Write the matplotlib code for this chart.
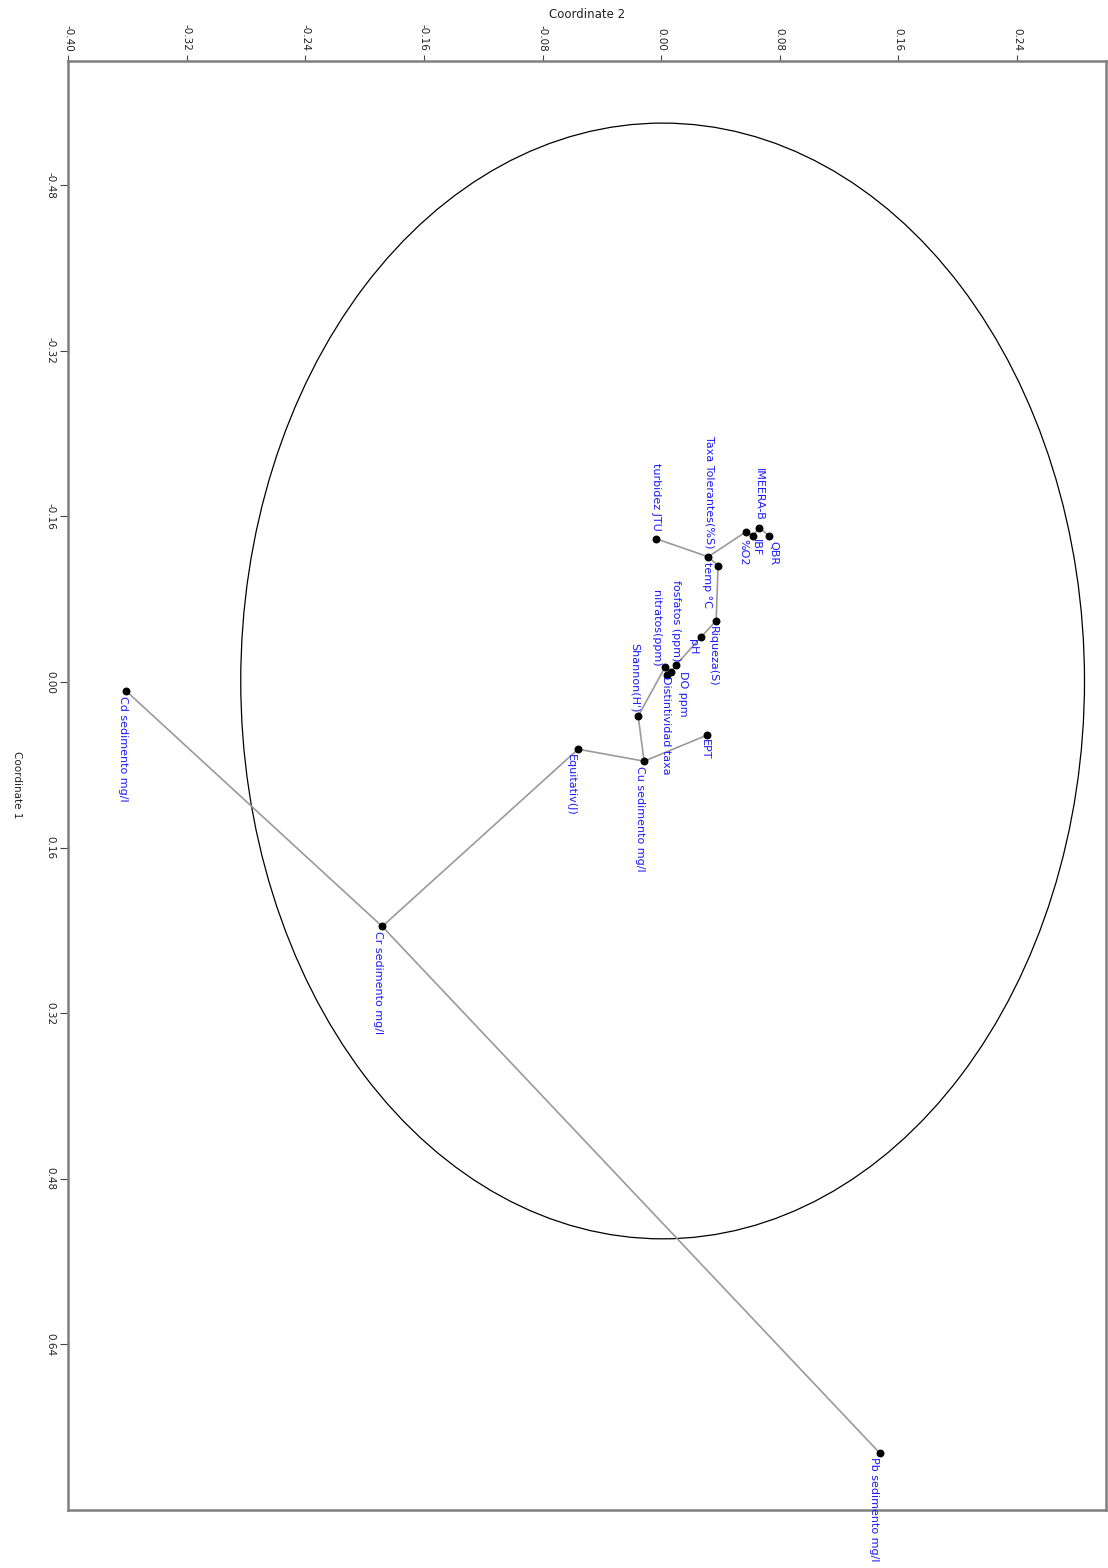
import matplotlib
matplotlib.use("Agg")
import matplotlib.pyplot as plt
from matplotlib.patches import Ellipse

# ordination scores (Coordinate 2, Coordinate 1) for each variable
names = ["turbidez JTU", "Taxa Tolerantes(%S)", "temp °C", "%O2", "IBF",
         "IMEERA-B", "QBR", "Riqueza(S)", "pH", "fosfatos (ppm)",
         "nitratos(ppm)", "DO ppm", "Distintividad taxa", "Shannon(H')",
         "Cu sedimento mg/l", "EPT", "Equitativ(J)", "Cr sedimento mg/l",
         "Cd sedimento mg/l", "Pb sedimento mg/l"]
coord2 = [-0.0034, 0.0317, 0.0384, 0.0573, 0.0620,
          0.0661, 0.0728, 0.0371, 0.0270, 0.0101,
          0.0027, 0.0067, 0.0040, -0.0155,
          -0.0115, 0.0310, -0.0560, -0.1881,
          -0.3608, 0.1477]
coord1 = [-0.1384, -0.1210, -0.1123, -0.1452, -0.1413,
          -0.1491, -0.1413, -0.0591, -0.0436, -0.0165,
          -0.0145, -0.0097, -0.0068, 0.0329,
          0.0765, 0.0513, 0.0649, 0.2362,
          0.0087, 0.7454]

# minimum spanning tree links
mst = [("turbidez JTU", "Taxa Tolerantes(%S)"),
       ("Taxa Tolerantes(%S)", "temp °C"),
       ("Taxa Tolerantes(%S)", "%O2"),
       ("%O2", "IBF"), ("IBF", "IMEERA-B"), ("IMEERA-B", "QBR"),
       ("temp °C", "Riqueza(S)"), ("Riqueza(S)", "pH"),
       ("pH", "fosfatos (ppm)"), ("fosfatos (ppm)", "DO ppm"),
       ("DO ppm", "Distintividad taxa"), ("Distintividad taxa", "nitratos(ppm)"),
       ("nitratos(ppm)", "Shannon(H')"), ("Shannon(H')", "Cu sedimento mg/l"),
       ("Cu sedimento mg/l", "EPT"), ("Cu sedimento mg/l", "Equitativ(J)"),
       ("Equitativ(J)", "Cr sedimento mg/l"),
       ("Cr sedimento mg/l", "Cd sedimento mg/l"),
       ("Cr sedimento mg/l", "Pb sedimento mg/l")]

# confidence ellipse
ell_center = (0.001, -0.001)
ell_width = 0.569
ell_height = 1.078

xticks = [-0.40, -0.32, -0.24, -0.16, -0.08, 0.00, 0.08, 0.16, 0.24]
yticks = [-0.48, -0.32, -0.16, 0.00, 0.16, 0.32, 0.48, 0.64]

# label placement: pixel offset from the point and which end sits there
label_off = {
    "turbidez JTU": (0, -8, "bottom"),
    "Taxa Tolerantes(%S)": (1, -8, "bottom"),
    "temp °C": (-11, -4, "top"),
    "%O2": (-3, 7, "top"),
    "IBF": (3, 3, "top"),
    "IMEERA-B": (0, -7, "bottom"),
    "QBR": (4, 5, "top"),
    "Riqueza(S)": (-3, 5, "top"),
    "pH": (-8, 2, "top"),
    "fosfatos (ppm)": (0, -4, "bottom"),
    "nitratos(ppm)": (-9, 0, "bottom"),
    "DO ppm": (12, -1, "top"),
    "Distintividad taxa": (-1, 1, "top"),
    "Shannon(H')": (-3, -4, "bottom"),
    "Cu sedimento mg/l": (-4, 5, "top"),
    "EPT": (-2, 4, "top"),
    "Equitativ(J)": (-7, 5, "top"),
    "Cr sedimento mg/l": (-4, 5, "top"),
    "Cd sedimento mg/l": (-3, 5, "top"),
    "Pb sedimento mg/l": (-6, 4, "top"),
}

plt.rcParams['font.family'] = ['DejaVu Sans']

fig = plt.figure(figsize=(11.08, 15.68), dpi=100)
ax = fig.add_axes([68 / 1108, 1 - 1510 / 1568, (1106 - 68) / 1108, (1510 - 61) / 1568])

pos = {n: (x, y) for n, x, y in zip(names, coord2, coord1)}

ax.add_patch(Ellipse(ell_center, ell_width, ell_height, fill=False,
                     edgecolor="black", lw=0.9, zorder=1))

for a, b in mst:
    ax.plot([pos[a][0], pos[b][0]], [pos[a][1], pos[b][1]],
            color="#9a9a9a", lw=1.2, zorder=2)

ax.scatter(coord2, coord1, s=22, color="black", zorder=3)

for n in names:
    dx, dy, end = label_off[n]
    ax.annotate(n, pos[n], xytext=(dx, -dy), textcoords="offset pixels",
                rotation=-90, ha="center", va=end, color="#1a1aff",
                fontsize=8, annotation_clip=False, zorder=4)

ax.set_xlim(-0.40, 0.30)
ax.set_ylim(0.80, -0.60)
ax.set_xticks(xticks)
ax.set_yticks(yticks)
ax.set_xticklabels([f"{v:.2f}" for v in xticks])
ax.set_yticklabels([f"{v:.2f}" for v in yticks])
ax.xaxis.tick_top()
ax.tick_params(axis="x", labelrotation=-90, labelsize=7.5, length=4,
               color="#444444", labelcolor="#222222", pad=3)
ax.tick_params(axis="y", labelrotation=-90, labelsize=7.5, length=6,
               color="#444444", labelcolor="#222222", pad=3)
for lab in ax.get_yticklabels():
    lab.set_va("center")

for sp in ax.spines.values():
    sp.set_color("#7f7f7f")
    sp.set_linewidth(1.8)

fig.text(587 / 1108, 1 - 14 / 1568, "Coordinate 2", ha="center", va="center",
         fontsize=8.5, color="#222222")
fig.text(17 / 1108, 1 - 785 / 1568, "Coordinate 1", ha="center", va="center",
         rotation=-90, fontsize=7.5, color="#222222")

fig.savefig("out.png", dpi=100)
